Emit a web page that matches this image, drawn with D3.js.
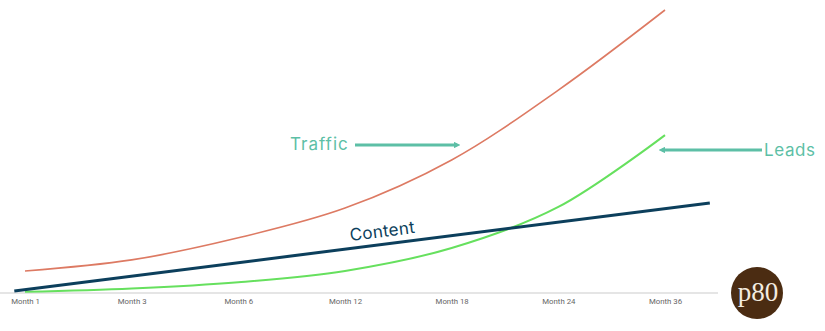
<!DOCTYPE html>
<html>
<head>
<meta charset="utf-8">
<script src="https://cdn.jsdelivr.net/npm/d3@7"></script>
<style>
  body { margin: 0; background: #fff; }
  svg { display: block; }
</style>
</head>
<body>
<div id="chart"></div>
<script>
// months along the bottom
const months = ["Month 1", "Month 3", "Month 6", "Month 12", "Month 18", "Month 24", "Month 36"];

// values (relative units, 0-100)
const traffic = [7.8, 11.7, 19.5, 30.0, 47.0, 71.7, 100];
const leads = [0.4, 1.6, 3.8, 7.8, 15.9, 30.4, 55.8];
// content is a straight line running a little past the first and last month
const contentIdx = [-0.1, 6.42];
const contentVals = [0.7, 31.8];

const width = 825;
const height = 331;

const svg = d3.select('#chart')
    .append('svg')
    .attr('width', width)
    .attr('height', height);

const x = d3.scaleLinear()
    .domain([0, months.length - 1])
    .range([25, 665]);

const y = d3.scaleLinear()
    .domain([0, 100])
    .range([293, 10]);

// baseline axis
const xAxis = d3.axisBottom(x)
    .tickValues(d3.range(months.length))
    .tickFormat(i => months[i])
    .tickSize(0)
    .tickPadding(5);

const axisG = svg.append('g')
    .attr('transform', 'translate(0,' + y(0) + ')')
    .call(xAxis);
axisG.select('.domain').remove();
axisG.append('line')
    .attr('x1', 0)
    .attr('x2', 718)
    .attr('stroke', '#dcdcdc')
    .attr('stroke-width', 1.5);
axisG.selectAll('text')
    .attr('font-family', 'Roboto, sans-serif')
    .attr('font-size', 7.8)
    .attr('fill', '#666');

const curved = d3.line()
    .x(d => x(d[0]))
    .y(d => y(d[1]))
    .curve(d3.curveCatmullRom.alpha(0.5));

const straight = d3.line()
    .x(d => x(d[0]))
    .y(d => y(d[1]));

svg.append('path')
    .datum(traffic.map((v, i) => [i, v]))
    .attr('d', curved)
    .attr('fill', 'none')
    .attr('stroke', '#dd7a63')
    .attr('stroke-width', 1.6);

svg.append('path')
    .datum(leads.map((v, i) => [i, v]))
    .attr('d', curved)
    .attr('fill', 'none')
    .attr('stroke', '#66e05e')
    .attr('stroke-width', 2);

svg.append('path')
    .datum(contentIdx.map((v, i) => [v, contentVals[i]]))
    .attr('d', straight)
    .attr('fill', 'none')
    .attr('stroke', '#0c3f5c')
    .attr('stroke-width', 3);

// annotations
const teal = '#5dbfa6';
svg.append('defs').append('marker')
    .attr('id', 'head')
    .attr('viewBox', '0 0 10 10')
    .attr('refX', 5)
    .attr('refY', 5)
    .attr('markerWidth', 2.2)
    .attr('markerHeight', 2.2)
    .attr('orient', 'auto')
    .append('path')
    .attr('d', 'M0,0L10,5L0,10Z')
    .attr('fill', teal);

svg.append('text')
    .attr('x', 290)
    .attr('y', 150)
    .attr('font-family', 'Inter, sans-serif')
    .attr('font-size', 17)
    .attr('letter-spacing', 1)
    .attr('fill', teal)
    .text('Traffic');

svg.append('line')
    .attr('x1', 355).attr('y1', 145)
    .attr('x2', 457).attr('y2', 145)
    .attr('stroke', teal)
    .attr('stroke-width', 3)
    .attr('marker-end', 'url(#head)');

svg.append('line')
    .attr('x1', 762).attr('y1', 150)
    .attr('x2', 662).attr('y2', 150)
    .attr('stroke', teal)
    .attr('stroke-width', 3)
    .attr('marker-end', 'url(#head)');

svg.append('text')
    .attr('x', 764)
    .attr('y', 156)
    .attr('font-family', 'Inter, sans-serif')
    .attr('font-size', 17)
    .attr('letter-spacing', 0.6)
    .attr('fill', teal)
    .text('Leads');

// Content label sits along its line
const angle = Math.atan2(y(contentVals[1]) - y(contentVals[0]), x(contentIdx[1]) - x(contentIdx[0])) * 180 / Math.PI;
svg.append('text')
    .attr('transform', 'translate(383,237) rotate(' + angle + ')')
    .attr('text-anchor', 'middle')
    .attr('font-family', 'Inter, sans-serif')
    .attr('font-size', 17)
    .attr('letter-spacing', 0.3)
    .attr('fill', '#0c3f5c')
    .text('Content');

// p80 badge
svg.append('circle')
    .attr('cx', 757)
    .attr('cy', 293)
    .attr('r', 26)
    .attr('fill', '#4b2c12');
svg.append('text')
    .attr('x', 758)
    .attr('y', 301)
    .attr('text-anchor', 'middle')
    .attr('font-family', 'Liberation Serif, serif')
    .attr('font-size', 27)
    .attr('fill', '#f3ece0')
    .text('p80');
</script>
</body>
</html>
